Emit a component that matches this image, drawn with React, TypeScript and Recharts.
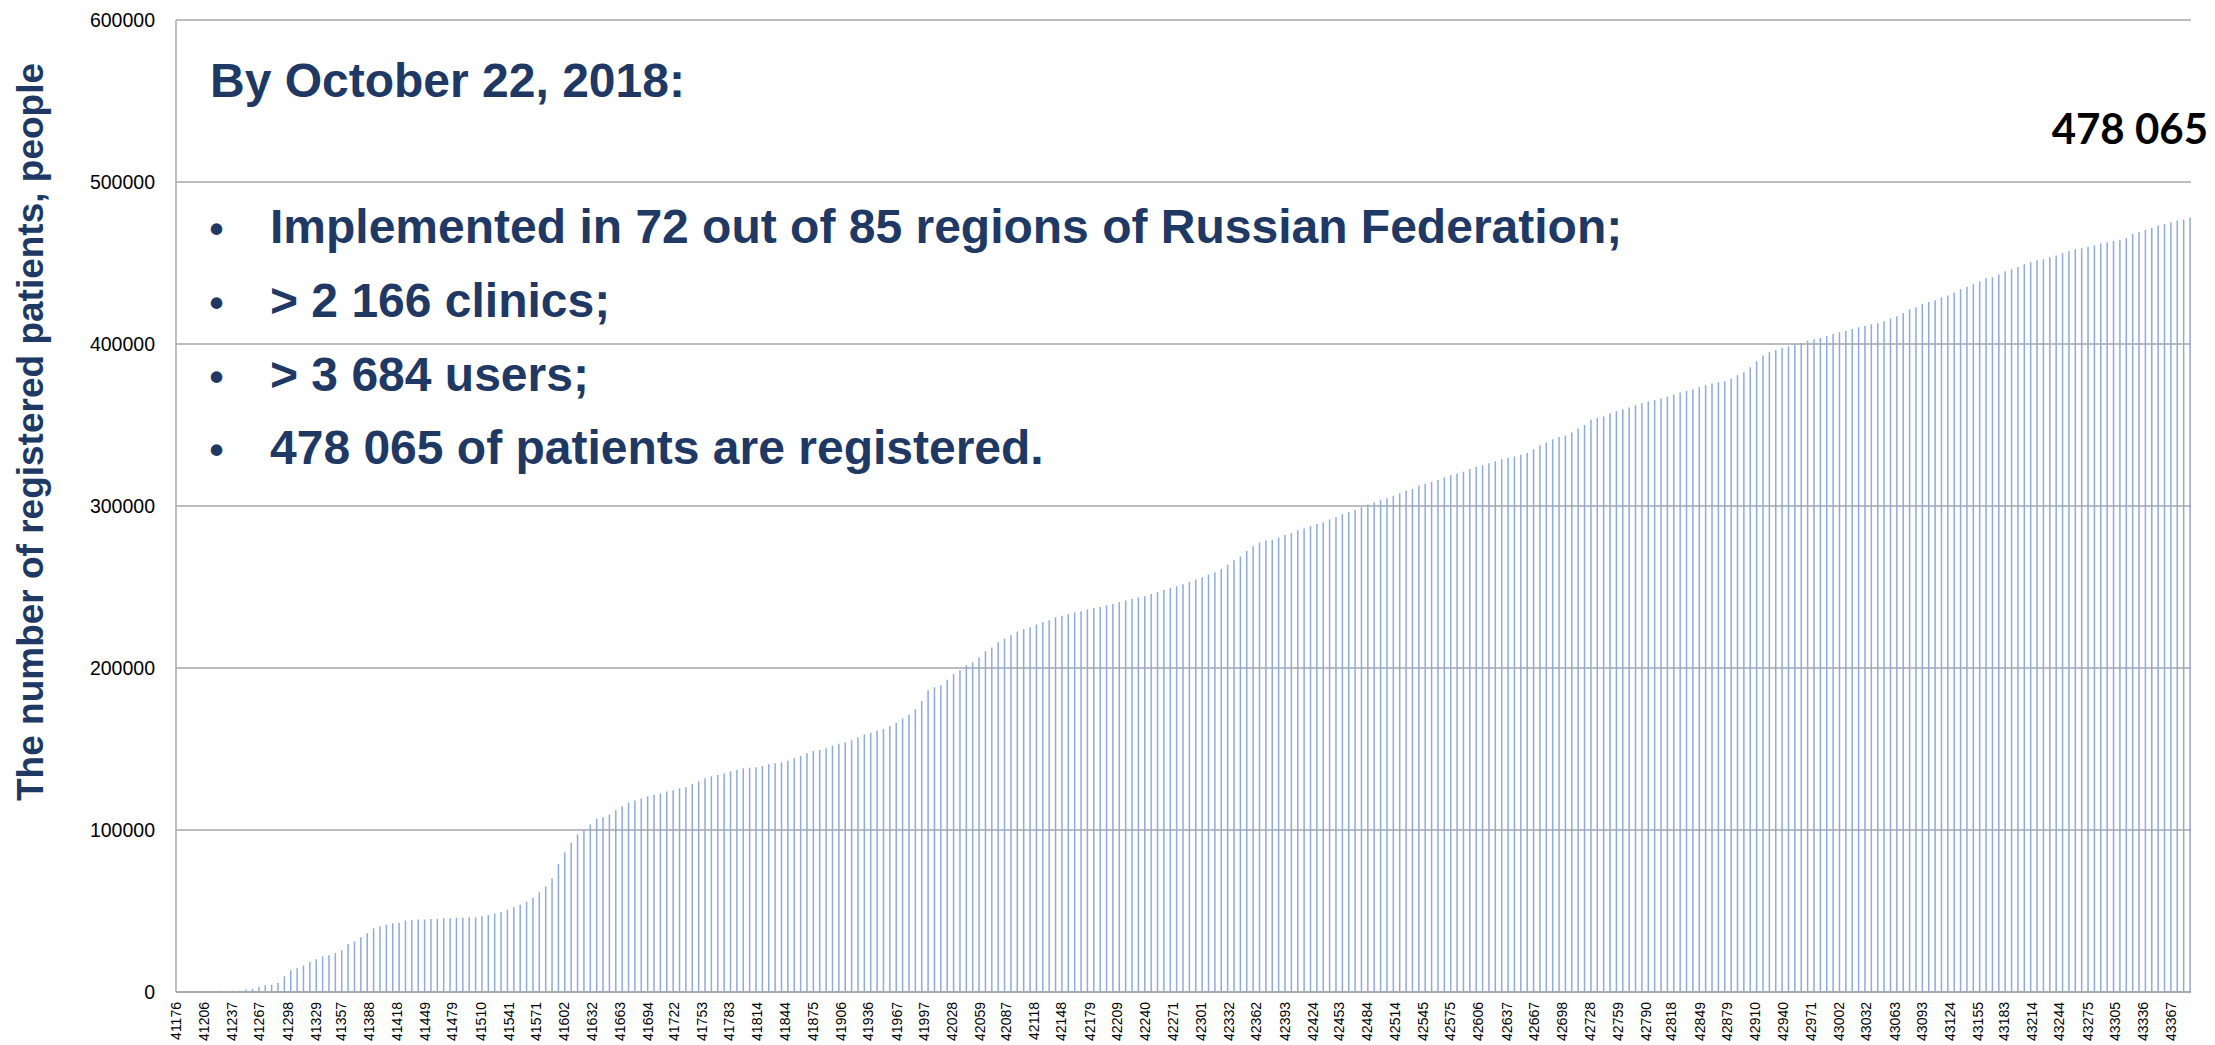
import React from "react";
import { BarChart, Bar, XAxis, YAxis, CartesianGrid, Customized } from "recharts";

// Excel date serial of the first weekly record and the weekly step
const START_DATE = 41176;
const WEEK_STEP = 7;

// Cumulative number of registered patients, one value per week
const registered: number[] = [
  0, 0, 0, 0, 0, 500, 500, 800, 800, 800,
  900, 1500, 2000, 3300, 4100, 4500, 5600, 9700, 13400, 14600,
  16300, 18500, 20200, 22000, 22700, 24100, 25700, 29600, 31300, 33800,
  36200, 39300, 40400, 41600, 42400, 42800, 44100, 44300, 44700, 44700,
  45100, 45100, 45500, 45500, 45900, 45900, 46100, 46100, 46700, 47500,
  48400, 49400, 50800, 52300, 53900, 55800, 58000, 61500, 65200, 70000,
  79000, 86200, 92200, 97300, 100200, 103500, 107000, 107800, 109500, 112200,
  114600, 116900, 118200, 119400, 120800, 121800, 122500, 123700, 124500, 125700,
  126400, 128400, 130100, 131900, 133200, 134000, 135000, 136200, 137000, 138100,
  138500, 138700, 139500, 140600, 141200, 141800, 142800, 144300, 145700, 147300,
  148800, 149400, 150400, 152100, 153300, 154100, 155400, 157200, 158900, 160100,
  161400, 162400, 164200, 166100, 168800, 171200, 174500, 179600, 186200, 188100,
  189300, 192800, 196300, 198600, 201700, 203500, 206500, 210300, 212600, 215900,
  218200, 220200, 222500, 224100, 225100, 226800, 228200, 229500, 231300, 232300,
  233200, 234400, 235000, 236100, 236900, 237700, 238700, 239500, 240600, 241600,
  242600, 243500, 244300, 245700, 246900, 248200, 249400, 250400, 251700, 253300,
  254600, 256000, 257700, 259100, 261100, 263800, 266500, 268800, 272200, 275100,
  277400, 278700, 279000, 280500, 282100, 283300, 285000, 286100, 287700, 288900,
  289900, 291600, 293000, 294900, 296300, 297500, 299200, 300900, 302300, 303500,
  304800, 306400, 307800, 309500, 310500, 312600, 313800, 314800, 316100, 317700,
  319000, 320000, 321200, 322900, 324100, 325100, 326400, 327600, 328800, 329600,
  330500, 331700, 332700, 335000, 337500, 339100, 341200, 342600, 343500, 345300,
  347800, 350000, 353300, 354300, 355200, 357200, 358500, 359700, 360800, 362200,
  363400, 364500, 365400, 366300, 367500, 368800, 370000, 371000, 372100, 373300,
  374500, 375600, 376400, 377000, 378600, 380700, 382500, 385600, 389300, 392900,
  394900, 396200, 397500, 398600, 399800, 400600, 402100, 402900, 403700, 405000,
  406200, 407200, 408000, 409300, 410300, 411100, 412200, 412800, 414000, 415700,
  417100, 419100, 421400, 422700, 424700, 425900, 427000, 428700, 429900, 431700,
  433800, 435400, 436900, 438700, 440600, 441200, 442900, 444900, 446100, 447500,
  449200, 450400, 451700, 452300, 453500, 454600, 456000, 457200, 458500, 459100,
  459900, 460900, 462000, 462800, 463800, 464200, 465400, 467900, 469000, 470600,
  471600, 473100, 474100, 475100, 476200, 476800, 478065,
];

// Category axis tick labels (monthly date serials)
const xTickLabels: number[] = [
  41176, 41206, 41237, 41267, 41298, 41329, 41357, 41388, 41418, 41449, 41479,
  41510, 41541, 41571, 41602, 41632, 41663, 41694, 41722, 41753, 41783, 41814,
  41844, 41875, 41906, 41936, 41967, 41997, 42028, 42059, 42087, 42118, 42148,
  42179, 42209, 42240, 42271, 42301, 42332, 42362, 42393, 42424, 42453, 42484,
  42514, 42545, 42575, 42606, 42637, 42667, 42698, 42728, 42759, 42790, 42818,
  42849, 42879, 42910, 42940, 42971, 43002, 43032, 43063, 43093, 43124, 43155,
  43183, 43214, 43244, 43275, 43305, 43336, 43367,
];

const yTicks: number[] = [0, 100000, 200000, 300000, 400000, 500000, 600000];

const yAxisTitle = "The number of registered patients, people";
const headline = "By October 22, 2018:";
const bullets: string[] = [
  "Implemented in 72 out of 85 regions of Russian Federation;",
  "> 2 166 clinics;",
  "> 3 684 users;",
  "478 065 of patients are registered.",
];
const totalLabel = "478 065";

const data = registered.map((value, i) => ({
  date: START_DATE + WEEK_STEP * i,
  value,
}));

const NAVY = "#203864";
const FONT = "'Liberation Sans', Arial, sans-serif";

const XTick = (props: any) => {
  const { x, y, payload } = props;
  return (
    <text
      x={x}
      y={y}
      transform={`rotate(-90 ${x} ${y})`}
      textAnchor="end"
      dominantBaseline="central"
      fontSize={14}
      fontFamily={FONT}
      fill="#000"
    >
      {payload.value}
    </text>
  );
};

const YTick = (props: any) => {
  const { x, y, payload } = props;
  return (
    <text
      x={x}
      y={y}
      textAnchor="end"
      dominantBaseline="central"
      fontSize={19.5}
      fontFamily={FONT}
      fill="#000"
    >
      {payload.value}
    </text>
  );
};

const Overlay = () => (
  <g fontFamily={FONT}>
    <text
      x={43}
      y={432}
      transform="rotate(-90 43 432)"
      textAnchor="middle"
      fontSize={37}
      fontWeight="bold"
      fill={NAVY}
    >
      {yAxisTitle}
    </text>
    <text x={210} y={97} fontSize={48} fontWeight="bold" fill={NAVY}>
      {headline}
    </text>
    {bullets.map((b, i) => (
      <g key={i}>
        <text x={216.5} y={243 + i * 73.8} textAnchor="middle" fontSize={40} fontWeight="bold" fill={NAVY}>
          •
        </text>
        <text x={270} y={243 + i * 73.8} fontSize={48} fontWeight="bold" fill={NAVY}>
          {b}
        </text>
      </g>
    ))}
    <text
      x={2208}
      y={144}
      textAnchor="end"
      fontSize={42}
      fontWeight="bold"
      fill="#000"
      fontFamily="Lato, 'Open Sans', sans-serif"
    >
      {totalLabel}
    </text>
  </g>
);

export default function App() {
  return (
    <div style={{ position: "fixed", left: 0, top: 0, width: 2215, height: 1045, background: "#fff" }}>
      <BarChart
        width={2215}
        height={1045}
        data={data}
        margin={{ top: 20, right: 24, bottom: 0, left: 0 }}
        barGap={0}
      >
        <CartesianGrid vertical={false} stroke="#A6A6A6" strokeWidth={1.4} />
        <XAxis
          dataKey="date"
          type="number"
          domain={[41175.5, 43388.6]}
          allowDataOverflow
          ticks={xTickLabels}
          interval={0}
          tick={<XTick />}
          tickLine={false}
          tickSize={0}
          tickMargin={10}
          height={53}
          axisLine={{ stroke: "#A6A6A6", strokeWidth: 1.4 }}
        />
        <YAxis
          type="number"
          domain={[0, 600000]}
          ticks={yTicks}
          interval={0}
          width={176}
          tick={<YTick />}
          tickLine={false}
          tickSize={0}
          tickMargin={21}
          axisLine={{ stroke: "#A6A6A6", strokeWidth: 1.4 }}
        />
        <Bar dataKey="value" fill="#8FAADC" barSize={1.5} isAnimationActive={false} />
        <Customized component={Overlay} />
      </BarChart>
    </div>
  );
}
